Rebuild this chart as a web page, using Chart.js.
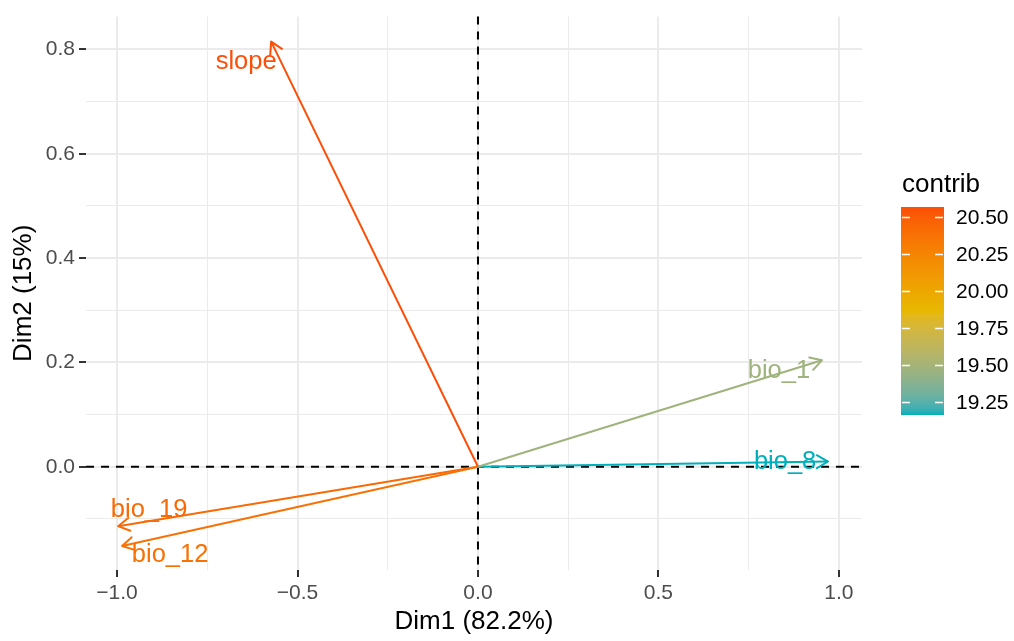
<!DOCTYPE html>
<html>
<head>
<meta charset="utf-8">
<script src="https://cdn.jsdelivr.net/npm/chart.js@4/dist/chart.umd.min.js"></script>
<style>
  html, body { margin: 0; padding: 0; background: #fff; }
  canvas { display: block; }
</style>
</head>
<body>
<canvas id="pcaVar" width="1014" height="641"></canvas>
<script>
// variable coordinates on the first two dimensions
const varNames = ["bio_1", "bio_8", "bio_12", "bio_19", "slope"];
const dim1 = [0.953, 0.970, -0.986, -0.997, -0.573];
const dim2 = [0.204, 0.010, -0.152, -0.114, 0.815];
const contrib = [19.47, 19.16, 20.38, 20.42, 20.57];
const contribTicks = [19.25, 19.50, 19.75, 20.00, 20.25, 20.50];

const gradientCols = ["#00AFBB", "#E7B800", "#FC4E07"];
const FONT = "'Liberation Sans', Arial, Helvetica, sans-serif";

// --- colour helpers (interpolate in Lab like ggplot does) ---
function hexToRgb(h) {
  return [1, 3, 5].map(i => parseInt(h.substr(i, 2), 16));
}
function rgbToLab(rgb) {
  const lin = rgb.map(c => {
    c = c / 255;
    return c <= 0.04045 ? c / 12.92 : Math.pow((c + 0.055) / 1.055, 2.4);
  });
  const X = (0.4124 * lin[0] + 0.3576 * lin[1] + 0.1805 * lin[2]) / 0.95047;
  const Y = 0.2126 * lin[0] + 0.7152 * lin[1] + 0.0722 * lin[2];
  const Z = (0.0193 * lin[0] + 0.1192 * lin[1] + 0.9505 * lin[2]) / 1.08883;
  const f = t => t > 0.008856 ? Math.cbrt(t) : 7.787 * t + 16 / 116;
  const fx = f(X), fy = f(Y), fz = f(Z);
  return [116 * fy - 16, 500 * (fx - fy), 200 * (fy - fz)];
}
function labToRgb(lab) {
  const fy = (lab[0] + 16) / 116;
  const fx = fy + lab[1] / 500;
  const fz = fy - lab[2] / 200;
  const finv = t => (t * t * t > 0.008856 ? t * t * t : (t - 16 / 116) / 7.787);
  const X = 0.95047 * finv(fx), Y = finv(fy), Z = 1.08883 * finv(fz);
  const lin = [
    3.2406 * X - 1.5372 * Y - 0.4986 * Z,
    -0.9689 * X + 1.8758 * Y + 0.0415 * Z,
    0.0557 * X - 0.2040 * Y + 1.0570 * Z
  ];
  return lin.map(c => {
    c = c <= 0.0031308 ? 12.92 * c : 1.055 * Math.pow(c, 1 / 2.4) - 0.055;
    return Math.round(Math.min(1, Math.max(0, c)) * 255);
  });
}
const labStops = gradientCols.map(c => rgbToLab(hexToRgb(c)));
const cMin = Math.min(...contrib);
const cMax = Math.max(...contrib);

function contribColor(v) {
  let t = (v - cMin) / (cMax - cMin);
  t = Math.min(1, Math.max(0, t)) * (labStops.length - 1);
  const i = Math.min(Math.floor(t), labStops.length - 2);
  const f = t - i;
  const a = labStops[i], b = labStops[i + 1];
  const rgb = labToRgb([0, 1, 2].map(k => a[k] + (b[k] - a[k]) * f));
  return "rgb(" + rgb.join(",") + ")";
}

function fmtTick(v) {
  return v.toFixed(1).replace("-", "\u2212");
}
const isMajorX = v => Math.abs(Math.round(v * 4)) % 2 === 0;
const isMajorY = v => Math.abs(Math.round(v * 10)) % 2 === 0;

// --- plugin: zero lines, arrow heads, labels, colour bar ---
const labelNudge = {
  slope: [-25, 27],
  bio_1: [-43, 18],
  bio_8: [-43, 7],
  bio_19: [31, -9],
  bio_12: [48, 16]
};

const varPlot = {
  id: "varPlot",
  beforeDatasetsDraw(chart) {
    const ctx = chart.ctx;
    const area = chart.chartArea;
    const x0 = chart.scales.x.getPixelForValue(0);
    const y0 = chart.scales.y.getPixelForValue(0);
    ctx.save();
    ctx.strokeStyle = "#000";
    ctx.lineWidth = 2;
    ctx.setLineDash([8, 7]);
    ctx.beginPath();
    ctx.moveTo(area.left, y0);
    ctx.lineTo(area.right, y0);
    ctx.moveTo(x0, area.top);
    ctx.lineTo(x0, area.bottom);
    ctx.stroke();
    ctx.restore();
  },
  afterDatasetsDraw(chart) {
    const ctx = chart.ctx;
    ctx.save();
    chart.data.datasets.forEach((ds, i) => {
      const pts = chart.getDatasetMeta(i).data;
      const p0 = pts[0], p1 = pts[1];
      const ang = Math.atan2(p1.y - p0.y, p1.x - p0.x);
      const len = 13, spread = Math.PI / 6;
      ctx.strokeStyle = ds.borderColor;
      ctx.lineWidth = 2;
      ctx.lineCap = "round";
      ctx.lineJoin = "round";
      ctx.beginPath();
      ctx.moveTo(p1.x - len * Math.cos(ang - spread), p1.y - len * Math.sin(ang - spread));
      ctx.lineTo(p1.x, p1.y);
      ctx.lineTo(p1.x - len * Math.cos(ang + spread), p1.y - len * Math.sin(ang + spread));
      ctx.stroke();

      const nudge = labelNudge[ds.label] || [0, -10];
      ctx.fillStyle = ds.borderColor;
      ctx.font = "25.5px " + FONT;
      ctx.textAlign = "center";
      ctx.textBaseline = "alphabetic";
      ctx.fillText(ds.label, p1.x + nudge[0], p1.y + nudge[1]);
    });
    ctx.restore();
  },
  afterDraw(chart) {
    const ctx = chart.ctx;
    const barLeft = 901, barTop = 207, barW = 43, barH = 208;
    ctx.save();
    ctx.fillStyle = "#000";
    ctx.font = "26px " + FONT;
    ctx.textAlign = "left";
    ctx.textBaseline = "alphabetic";
    ctx.fillText("contrib", 902, 192);

    const grad = ctx.createLinearGradient(0, barTop, 0, barTop + barH);
    const n = 40;
    for (let k = 0; k <= n; k++) {
      grad.addColorStop(k / n, contribColor(cMax - (cMax - cMin) * k / n));
    }
    ctx.fillStyle = grad;
    ctx.fillRect(barLeft, barTop, barW, barH);

    ctx.font = "21px " + FONT;
    ctx.textBaseline = "middle";
    contribTicks.forEach(v => {
      const y = Math.round(barTop + (cMax - v) / (cMax - cMin) * barH) + 0.5;
      ctx.strokeStyle = "#fff";
      ctx.lineWidth = 1.5;
      ctx.beginPath();
      ctx.moveTo(barLeft + 1, y);
      ctx.lineTo(barLeft + 9, y);
      ctx.moveTo(barLeft + barW - 9, y);
      ctx.lineTo(barLeft + barW - 1, y);
      ctx.stroke();
      ctx.fillStyle = "#000";
      ctx.fillText(v.toFixed(2), 956, y + 1);
    });
    ctx.restore();
  }
};

const datasets = varNames.map((name, i) => ({
  label: name,
  data: [{ x: 0, y: 0 }, { x: dim1[i], y: dim2[i] }],
  borderColor: contribColor(contrib[i]),
  backgroundColor: contribColor(contrib[i]),
  borderWidth: 2,
  showLine: true,
  pointRadius: 0,
  pointHoverRadius: 0
}));

function gridOpts(isMajor) {
  return {
    color: "#EBEBEB",
    lineWidth: c => (isMajor(c.tick.value) ? 2 : 1),
    tickLength: 7,
    tickWidth: 2,
    tickColor: c => (isMajor(c.tick.value) ? "#333333" : "rgba(0,0,0,0)")
  };
}

new Chart(document.getElementById("pcaVar"), {
  type: "scatter",
  data: { datasets: datasets },
  options: {
    responsive: false,
    animation: false,
    devicePixelRatio: 1,
    layout: { padding: { top: 13, right: 152, left: 0, bottom: 0 } },
    plugins: {
      legend: { display: false },
      tooltip: { enabled: false }
    },
    scales: {
      x: {
        type: "linear",
        position: "bottom",
        min: -1.086,
        max: 1.064,
        border: { display: false },
        grid: gridOpts(isMajorX),
        ticks: {
          stepSize: 0.25,
          includeBounds: false,
          autoSkip: false,
          maxRotation: 0,
          padding: 4,
          color: "#4D4D4D",
          font: { family: FONT, size: 21 },
          callback: v => (isMajorX(v) ? fmtTick(v) : "")
        },
        title: {
          display: true,
          text: "Dim1 (82.2%)",
          color: "#000",
          font: { family: FONT, size: 26 },
          padding: { top: 0, bottom: 4 }
        },
        afterFit: s => { s.height = 71; }
      },
      y: {
        type: "linear",
        position: "left",
        min: -0.198,
        max: 0.863,
        border: { display: false },
        grid: gridOpts(isMajorY),
        ticks: {
          stepSize: 0.1,
          includeBounds: false,
          autoSkip: false,
          padding: 4,
          color: "#4D4D4D",
          font: { family: FONT, size: 21 },
          callback: v => (isMajorY(v) ? fmtTick(v) : "")
        },
        title: {
          display: true,
          text: "Dim2 (15%)",
          color: "#000",
          font: { family: FONT, size: 26 },
          padding: { top: 8, bottom: 0 }
        },
        afterFit: s => { s.width = 86; }
      }
    }
  },
  plugins: [varPlot]
});
</script>
</body>
</html>
